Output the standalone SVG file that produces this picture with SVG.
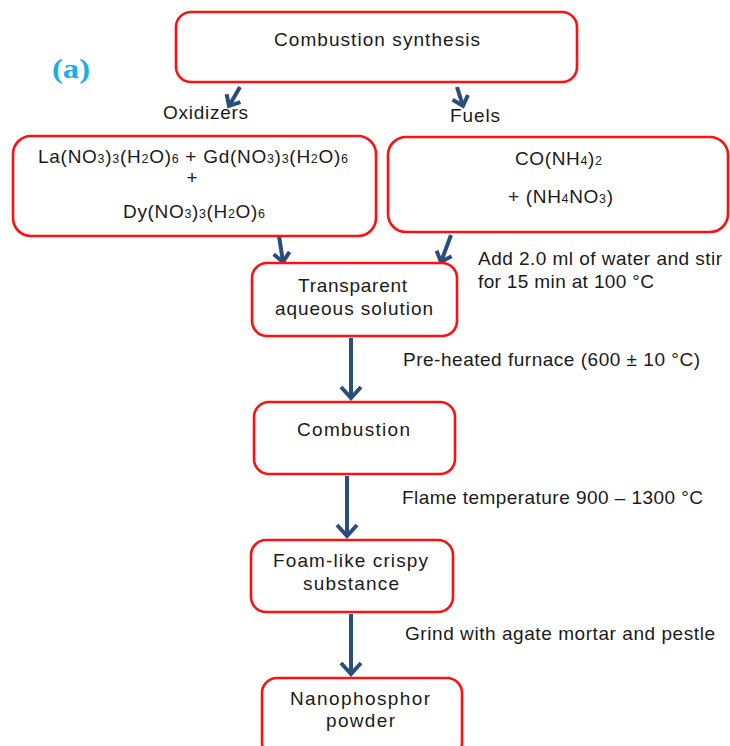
<svg xmlns="http://www.w3.org/2000/svg" width="730" height="746" viewBox="0 0 730 746">
<style>
.box{fill:#fff;stroke:#ff1010;stroke-width:2.6}
.t{font-family:"Liberation Sans",Arial,sans-serif;font-size:19px;fill:#1a1a1a}
.c{text-anchor:middle}
.s{font-size:12.5px}
.arr{fill:none;stroke:#2a4e7c;stroke-width:4;stroke-linecap:butt}
.sarr{fill:none;stroke:#2a4e7c;stroke-width:4}
</style>
<defs>
<marker id="ah" viewBox="0 0 16 24" refX="13" refY="12" markerWidth="16" markerHeight="24" markerUnits="userSpaceOnUse" orient="auto">
<path d="M2,2 L13,12 L2,22" fill="none" stroke="#2a4e7c" stroke-width="4"/>
</marker>
<marker id="ahs" viewBox="0 0 14 20" refX="11" refY="10" markerWidth="14" markerHeight="20" markerUnits="userSpaceOnUse" orient="auto">
<path d="M2,2 L11,10 L2,18" fill="none" stroke="#2a4e7c" stroke-width="4"/>
</marker>
</defs>
<rect width="730" height="746" fill="#fff"/>
<text x="52" y="78" font-family="Liberation Serif,Times New Roman,serif" font-weight="bold" font-size="27" fill="#1aaee8" textLength="38" lengthAdjust="spacingAndGlyphs">(a)</text>
<g id="connectors">
<line class="sarr" x1="240" y1="87" x2="229" y2="106" marker-end="url(#ahs)"/>
<line class="sarr" x1="457" y1="87" x2="463" y2="106" marker-end="url(#ahs)"/>
<line class="sarr" x1="279" y1="236" x2="283" y2="262" marker-end="url(#ahs)"/>
<line class="sarr" x1="451" y1="235" x2="441" y2="262" marker-end="url(#ahs)"/>
<line class="arr" x1="351" y1="338" x2="351" y2="398" marker-end="url(#ah)"/>
<line class="arr" x1="347" y1="476" x2="347" y2="536" marker-end="url(#ah)"/>
<line class="arr" x1="351" y1="614" x2="351" y2="674" marker-end="url(#ah)"/>
</g>
<g id="labels">
<text class="t" x="163" y="119" textLength="85" lengthAdjust="spacing">Oxidizers</text>
<text class="t" x="450" y="122" textLength="50" lengthAdjust="spacing">Fuels</text>
<text class="t" x="478" y="265" textLength="244" lengthAdjust="spacing">Add 2.0 ml of water and stir</text>
<text class="t" x="478" y="288" textLength="176" lengthAdjust="spacing">for 15 min at 100 °C</text>
<text class="t" x="403" y="366" textLength="297" lengthAdjust="spacing">Pre-heated furnace (600 ± 10 °C)</text>
<text class="t" x="402" y="504" textLength="301" lengthAdjust="spacing">Flame temperature 900 – 1300 °C</text>
<text class="t" x="405" y="640" textLength="310" lengthAdjust="spacing">Grind with agate mortar and pestle</text>
</g>
<g id="n-combustion-synthesis">
<rect class="box" x="176" y="12" width="401" height="70" rx="15"/>
<text class="t" x="274" y="46" textLength="206" lengthAdjust="spacing">Combustion synthesis</text>
</g>
<g id="n-oxidizers">
<rect class="box" x="13" y="136" width="363" height="100" rx="18"/>
<text class="t" x="38" y="163" textLength="310" lengthAdjust="spacing">La(NO<tspan class="s">3</tspan>)<tspan class="s">3</tspan>(H<tspan class="s">2</tspan>O)<tspan class="s">6</tspan>  + Gd(NO<tspan class="s">3</tspan>)<tspan class="s">3</tspan>(H<tspan class="s">2</tspan>O)<tspan class="s">6</tspan></text>
<text class="t c" x="192" y="184" font-size="18">+</text>
<text class="t" x="123" y="218" textLength="142" lengthAdjust="spacing">Dy(NO<tspan class="s">3</tspan>)<tspan class="s">3</tspan>(H<tspan class="s">2</tspan>O)<tspan class="s">6</tspan></text>
</g>
<g id="n-fuels">
<rect class="box" x="388" y="137" width="340" height="95" rx="18"/>
<text class="t" x="515" y="165" textLength="87" lengthAdjust="spacing">CO(NH<tspan class="s">4</tspan>)<tspan class="s">2</tspan></text>
<text class="t" x="508" y="203" textLength="105" lengthAdjust="spacing">+ (NH<tspan class="s">4</tspan>NO<tspan class="s">3</tspan>)</text>
</g>
<g id="n-transparent">
<rect class="box" x="252" y="263" width="205" height="73" rx="15"/>
<text class="t" x="298" y="292" textLength="109" lengthAdjust="spacing">Transparent</text>
<text class="t" x="275" y="315" textLength="158" lengthAdjust="spacing">aqueous solution</text>
</g>
<g id="n-combustion">
<rect class="box" x="254" y="402" width="201" height="72" rx="15"/>
<text class="t" x="297" y="436" textLength="113" lengthAdjust="spacing">Combustion</text>
</g>
<g id="n-foam">
<rect class="box" x="251" y="540" width="202" height="72" rx="15"/>
<text class="t" x="273" y="567" textLength="155" lengthAdjust="spacing">Foam-like crispy</text>
<text class="t" x="303" y="590" textLength="96" lengthAdjust="spacing">substance</text>
</g>
<g id="n-nanophosphor">
<rect class="box" x="262" y="678" width="200" height="80" rx="15"/>
<text class="t" x="290" y="705" textLength="140" lengthAdjust="spacing">Nanophosphor</text>
<text class="t" x="326" y="727" textLength="69" lengthAdjust="spacing">powder</text>
</g>
</svg>
